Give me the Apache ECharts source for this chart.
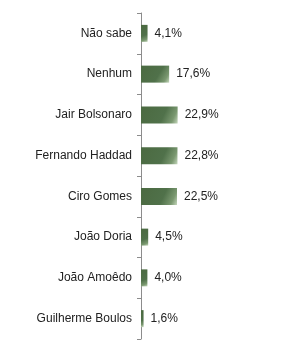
<!DOCTYPE html>
<html>
<head>
<meta charset="utf-8">
<script src="https://cdn.jsdelivr.net/npm/echarts@6/dist/echarts.min.js"></script>
<style>
  html, body { margin: 0; padding: 0; background: #fff; }
  #chart-container { width: 304px; height: 356px; }
</style>
</head>
<body>
<div id="chart-container"></div>
<script>
var categories = ["Não sabe", "Nenhum", "Jair Bolsonaro", "Fernando Haddad", "Ciro Gomes", "João Doria", "João Amoêdo", "Guilherme Boulos"];
var values = [4.1, 17.6, 22.9, 22.8, 22.5, 4.5, 4.0, 1.6];

var dom = document.getElementById("chart-container");
var myChart = echarts.init(dom, null, { renderer: "canvas" });

var barColor = new echarts.graphic.LinearGradient(0, 0, 1, 1, [
  { offset: 0, color: "#4b6a41" },
  { offset: 0.6, color: "#50714a" },
  { offset: 0.85, color: "#7a9870" },
  { offset: 1, color: "#c4d6bb" }
]);

var option = {
  animation: false,
  grid: { left: 141, top: 13, width: 160, height: 326 },
  xAxis: {
    type: "value",
    min: 0,
    max: 100,
    show: false
  },
  yAxis: {
    type: "category",
    inverse: true,
    data: categories,
    axisLine: { lineStyle: { color: "#8c8c8c" } },
    axisTick: { show: true, length: 4, lineStyle: { color: "#8c8c8c" } },
    axisLabel: {
      margin: 9,
      color: "#222",
      fontFamily: "Liberation Sans",
      fontSize: 12
    }
  },
  series: [
    {
      type: "bar",
      data: values,
      barWidth: 17,
      itemStyle: { color: barColor },
      label: {
        show: true,
        position: "right",
        distance: 7,
        color: "#222",
        fontFamily: "Liberation Sans",
        fontSize: 12,
        formatter: function (p) {
          return p.value.toFixed(1).replace(".", ",") + "%";
        }
      }
    }
  ]
};

myChart.setOption(option);
window.addEventListener("resize", myChart.resize);
</script>
</body>
</html>
